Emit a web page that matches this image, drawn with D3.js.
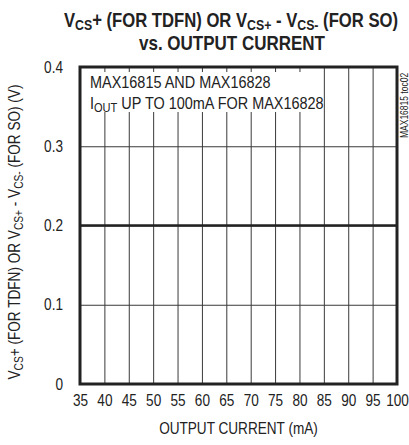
<!DOCTYPE html>
<html>
<head>
<meta charset="utf-8">
<script src="https://cdn.jsdelivr.net/npm/d3@7"></script>
<style>
  body { margin: 0; background: #fff; }
  svg { font-family: "Liberation Sans", Arial, sans-serif; }
  text { fill: #222; }
</style>
</head>
<body>
<div id="chart"></div>
<script>
var margin = {top: 67, right: 12, bottom: 61, left: 80},
    width = 409 - margin.left - margin.right,
    height = 445 - margin.top - margin.bottom,
    k = 0.85; // horizontal squeeze to get the narrow look of the original type

// data
var current = [35, 40, 45, 50, 55, 60, 65, 70, 75, 80, 85, 90, 95, 100];
var vsense = [0.2, 0.2, 0.2, 0.2, 0.2, 0.2, 0.2, 0.2, 0.2, 0.2, 0.2, 0.2, 0.2, 0.2];
var xTicks = [35, 40, 45, 50, 55, 60, 65, 70, 75, 80, 85, 90, 95, 100];
var yTicks = [0, 0.1, 0.2, 0.3, 0.4];

var svg = d3.select("#chart").append("svg")
    .attr("width", 409)
    .attr("height", 445);

var x = d3.scaleLinear().domain([35, 100]).range([0, width]);
var y = d3.scaleLinear().domain([0, 0.4]).range([height, 0]);

var g = svg.append("g")
    .attr("transform", "translate(" + margin.left + "," + margin.top + ")");

// grid
g.append("g")
    .call(d3.axisBottom(x).tickValues(xTicks.slice(1, -1)).tickSize(height).tickFormat(""))
    .call(function(a) { a.select(".domain").remove(); })
    .selectAll("line").attr("stroke", "#3a3a3a").attr("stroke-width", 1);

g.append("g")
    .call(d3.axisLeft(y).tickValues(yTicks.slice(1, -1)).tickSize(-width).tickFormat(""))
    .call(function(a) { a.select(".domain").remove(); })
    .selectAll("line").attr("stroke", "#3a3a3a").attr("stroke-width", 1);

// white box behind the note
g.append("rect")
    .attr("x", 3).attr("y", 5)
    .attr("width", x(83) - 3).attr("height", 40)
    .attr("fill", "#fff");

// tick labels
var xAxis = g.append("g")
    .attr("transform", "translate(0," + height + ")")
    .call(d3.axisBottom(x).tickValues(xTicks).tickSize(0).tickPadding(11).tickFormat(d3.format("d")));
xAxis.select(".domain").remove();
xAxis.selectAll("text")
    .style("font-size", "16px").attr("fill", "#222")
    .attr("transform", "scale(" + k + ",1)");

var yAxis = g.append("g")
    .call(d3.axisLeft(y).tickValues(yTicks).tickSize(0).tickPadding(17).tickFormat(function(d) { return d === 0 ? "0" : d3.format(".1f")(d); }));
yAxis.select(".domain").remove();
yAxis.selectAll("text")
    .style("font-size", "16px").attr("fill", "#222")
    .attr("x", -17 / k)
    .attr("transform", "scale(" + k + ",1)");
xAxis.attr("font-family", null);
yAxis.attr("font-family", null);

// data line
var line = d3.line()
    .x(function(d, i) { return x(current[i]); })
    .y(function(d) { return y(d); });

g.append("path")
    .datum(vsense)
    .attr("fill", "none")
    .attr("stroke", "#222")
    .attr("stroke-width", 2.6)
    .attr("d", line);

// frame
g.append("rect")
    .attr("width", width).attr("height", height)
    .attr("fill", "none")
    .attr("stroke", "#222")
    .attr("stroke-width", 3);

function at(px, py, rot) {
  return "translate(" + px + "," + py + ")" + (rot ? " rotate(" + rot + ")" : "") + " scale(" + k + ",1)";
}

// note
var note = g.append("g").style("font-size", "17px");
note.append("text").attr("transform", at(10, 21)).text("MAX16815 AND MAX16828");
var n2 = note.append("text").attr("transform", at(10, 42));
n2.append("tspan").text("I");
n2.append("tspan").attr("dy", 3).style("font-size", "13px").text("OUT");
n2.append("tspan").attr("dy", -3).text(" UP TO 100mA FOR MAX16828");

// side code
svg.append("text")
    .attr("transform", at(408, 138, -90))
    .style("font-size", "10px")
    .text("MAX16815 toc02");

// title
var t1 = svg.append("text").attr("transform", at(64, 27))
    .style("font-size", "19.6px").style("font-weight", "bold");
t1.append("tspan").text("V");
t1.append("tspan").attr("dy", 3).style("font-size", "14.5px").text("CS");
t1.append("tspan").attr("dy", -3).text("+ (FOR TDFN) OR V");
t1.append("tspan").attr("dy", 3).style("font-size", "14.5px").text("CS+");
t1.append("tspan").attr("dy", -3).text(" - V");
t1.append("tspan").attr("dy", 3).style("font-size", "14.5px").text("CS-");
t1.append("tspan").attr("dy", -3).text(" (FOR SO)");

svg.append("text").attr("transform", at(232, 50))
    .attr("text-anchor", "middle")
    .style("font-size", "20px").style("font-weight", "bold")
    .text("vs. OUTPUT CURRENT");

// axis titles
svg.append("text")
    .attr("transform", at(margin.left + width / 2, 434))
    .attr("text-anchor", "middle")
    .style("font-size", "16px")
    .text("OUTPUT CURRENT (mA)");

var yl = svg.append("text")
    .attr("transform", at(20, 232, -90))
    .attr("text-anchor", "middle")
    .style("font-size", "16px");
yl.append("tspan").text("V");
yl.append("tspan").attr("dy", 3).style("font-size", "12px").text("CS");
yl.append("tspan").attr("dy", -3).text("+ (FOR TDFN) OR V");
yl.append("tspan").attr("dy", 3).style("font-size", "12px").text("CS+");
yl.append("tspan").attr("dy", -3).text(" - V");
yl.append("tspan").attr("dy", 3).style("font-size", "12px").text("CS-");
yl.append("tspan").attr("dy", -3).text(" (FOR SO) (V)");
</script>
</body>
</html>
